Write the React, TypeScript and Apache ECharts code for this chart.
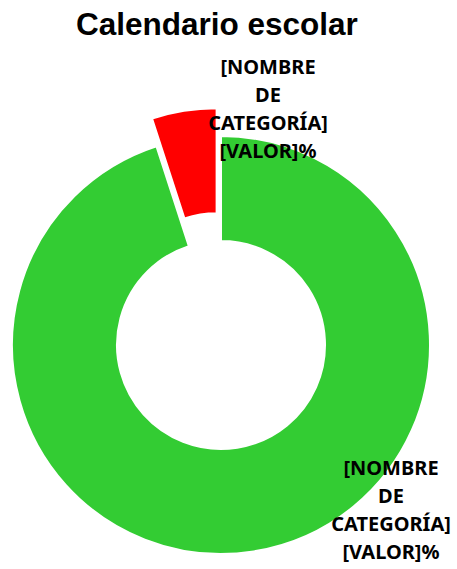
import React, { useEffect, useRef } from "react";
import * as echarts from "echarts";

const title = "Calendario escolar";
const categories = ["Días lectivos", "Vacaciones"];
const values = [95, 5];
const colors = ["#33CC33", "#FF0000"];
const labelText = "[NOMBRE\nDE\nCATEGORÍA]\n[VALOR]%";

export default function App() {
  const ref = useRef<HTMLDivElement>(null);
  useEffect(() => {
    const chart = echarts.init(ref.current!, null, { renderer: "svg" });
    const labelStyle = {
      text: labelText,
      fontFamily: "Noto Sans",
      fontWeight: "bold",
      fontSize: 20,
      lineHeight: 28,
      fill: "#000",
      align: "center",
      verticalAlign: "top",
    };
    chart.setOption({
      animation: false,
      backgroundColor: "#ffffff",
      title: {
        text: title,
        left: 71,
        top: 3,
        textStyle: { fontFamily: "Liberation Sans", fontWeight: "bold", fontSize: 31.5, color: "#000" },
      },
      graphic: [
        { type: "text", x: 268, y: 52, z: 100, style: labelStyle },
        { type: "text", x: 391, y: 453, z: 100, style: labelStyle },
      ],
      series: [
        {
          type: "pie",
          center: [221, 345],
          radius: [104, 209],
          startAngle: 90,
          clockwise: true,
          selectedMode: "single",
          selectedOffset: 28,
          itemStyle: { borderColor: "#ffffff", borderWidth: 2 },
          label: { show: false },
          labelLine: { show: false },
          data: categories.map((c, i) => ({
            name: c,
            value: values[i],
            selected: i === 1,
            itemStyle: { color: colors[i] },
          })),
        },
      ],
    });
    return () => chart.dispose();
  }, []);
  return <div ref={ref} style={{ position: "fixed", left: 0, top: 0, width: 457, height: 569 }} />;
}
